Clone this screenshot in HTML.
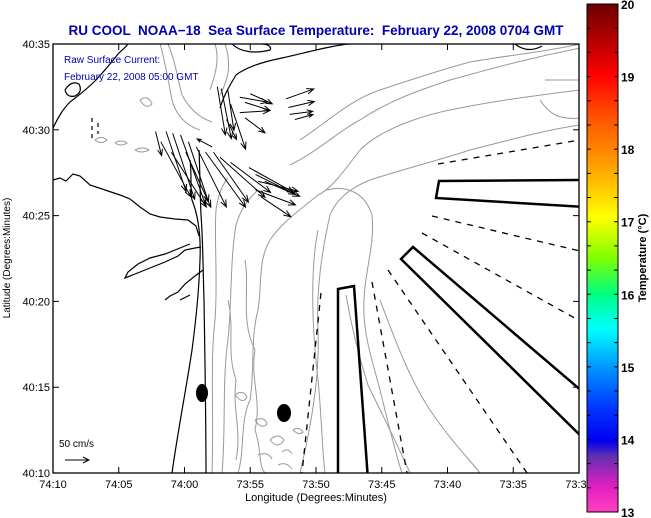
<!DOCTYPE html>
<html><head><meta charset="utf-8">
<style>
html,body{margin:0;padding:0;background:#fff;}
svg{display:block;font-family:"Liberation Sans",sans-serif;}
</style></head>
<body>
<svg id="chart" width="651" height="518" viewBox="0 0 651 518" xmlns="http://www.w3.org/2000/svg">
<defs>
<linearGradient id="cbg" x1="0" y1="0" x2="0" y2="1">
<stop offset="0" stop-color="#6a0000"/>
<stop offset="0.14" stop-color="#ff0000"/>
<stop offset="0.22" stop-color="#ff5000"/>
<stop offset="0.3" stop-color="#ff9000"/>
<stop offset="0.42" stop-color="#ffff00"/>
<stop offset="0.5" stop-color="#80ff00"/>
<stop offset="0.57" stop-color="#00ff80"/>
<stop offset="0.64" stop-color="#00ffff"/>
<stop offset="0.72" stop-color="#0090ff"/>
<stop offset="0.8" stop-color="#0030ff"/>
<stop offset="0.86" stop-color="#0000f0"/>
<stop offset="0.89" stop-color="#6030b0"/>
<stop offset="0.95" stop-color="#e020c0"/>
<stop offset="1" stop-color="#ff40c0"/>
</linearGradient>
<clipPath id="plotclip"><rect x="53" y="44" width="526" height="429"/></clipPath>
</defs>
<rect x="0" y="0" width="651" height="518" fill="#fff"/>
<text x="316" y="35" text-anchor="middle" font-size="13.5" font-weight="bold" fill="#0000b0" style="white-space:pre">RU COOL  NOAA−18  Sea Surface Temperature:  February 22, 2008 0704 GMT</text>

<g id="map" clip-path="url(#plotclip)">
  <g fill="none" stroke="#999" stroke-width="1">
    <path d="M212,473 C214,420 210,360 215,320 C218,280 214,240 216,210 C218,195 222,185 228,178"/>
    <path d="M222,473 C226,430 222,380 228,340 C232,300 230,260 236,225 C242,205 250,198 258,190"/>
    <path d="M238,473 C245,450 240,420 250,400 C255,370 250,340 258,310 C262,285 258,260 270,240 C282,222 300,210 318,195 C330,190 345,170 360,150 C380,130 420,115 460,108 C500,100 540,95 580,90"/>
    <path d="M300,473 C310,430 320,380 318,330 C316,290 322,250 330,215 C336,200 350,188 370,180 C400,170 440,160 470,150 C510,140 545,130 580,125"/>
    <path d="M327,190 C345,185 365,192 372,215 C375,245 365,270 364,300 C362,330 372,360 380,390 C390,430 396,455 402,473"/>
    <path d="M318,230 C310,270 312,330 318,380 C322,420 322,450 325,473"/>
    <path d="M346,295 C352,330 360,360 368,385 C385,420 400,450 410,473"/>
    <path d="M380,300 C395,340 410,380 430,410 C450,440 470,460 480,473"/>
    <path d="M290,165 C320,150 340,130 360,120 C390,100 420,90 450,80 C480,72 520,60 580,48"/>
    <path d="M300,140 C330,120 350,100 380,90 C410,80 440,70 470,62 C510,55 545,52 580,44"/>
    <path d="M545,80 L580,80 M540,100 C550,115 560,120 580,118"/>
    <path d="M215,44 C220,60 215,75 210,90 M225,44 C232,65 228,80 220,95"/>
    <path d="M160,44 C165,60 168,80 172,100 C176,115 185,125 200,130 M168,44 C175,60 178,80 182,95 C190,110 200,118 212,122"/>
    <path d="M245,260 C250,290 240,320 255,350 C250,380 262,400 255,430 C262,450 258,465 265,473"/>
    <path d="M228,300 C235,330 226,350 236,380 C232,410 242,430 236,460"/>
    <path d="M235,395 q8,-6 12,2 q-4,8 -12,-2 M255,420 q10,-4 12,4 q-6,6 -12,-4 M270,440 q8,-8 14,0 q-6,10 -14,0 M258,455 q10,-4 14,4 M293,430 q6,-4 10,2 q-4,4 -10,-2 M282,452 q6,-5 10,2 M278,465 q8,-4 14,4"/>
    <path d="M95,140 q6,-5 12,0 q-6,5 -12,0 M115,143 q6,-4 12,0 q-6,4 -12,0 M135,150 q8,-4 14,0 q-8,4 -14,0"/>
    <path d="M140,100 q8,-6 12,4 q-6,6 -12,-4"/>
  </g>
  <g fill="none" stroke="#000" stroke-width="1.2">
    <path d="M172,473 C178,430 186,390 192,350 C196,320 199,290 200,260 C201,235 198,215 192,200 C190,190 192,175 190,160"/>
    <path d="M206,473 C206,420 205,360 204,300 C203,270 203,240 201,215 C200,195 200,170 199,150"/>
    <path d="M53,180 L60,178 L66,181 L73,174 L80,176 L90,185 L105,190 L120,195 L130,199 L140,207 L150,214 L160,217 L175,219 L188,220 L196,226 L199,236"/>
    <path d="M201,247 L195,248 L185,250 L178,256 L165,262 L150,268 L135,274 L125,278 L128,272 L138,264 L150,258 L165,254 L180,248 L190,244"/>
    <path d="M203,270 L195,276 L185,284 L178,292 L170,296 L165,300 M190,295 L180,300"/>
    <path d="M53,128 C58,118 62,110 70,102 C78,96 88,88 96,80 C105,70 112,62 118,54 C122,50 126,47 128,44"/>
    <path d="M65,90 q6,-10 14,-6 q4,8 -4,12 q-8,2 -10,-6"/>
    <path d="M220,108 C224,95 230,85 236,75 C245,68 262,62 282,58 C300,54 315,50 330,47 C340,45 345,44 350,44"/>
    <path d="M232,44 C240,52 255,54 270,50 C272,47 268,44 262,44"/>
    <path d="M515,44 C525,52 535,50 542,46"/>
  </g>
  <path d="M92,118 L92,140 M98,123 L98,134" stroke="#000" stroke-width="1.2" stroke-dasharray="4,4" fill="none"/>
  <g fill="none" stroke="#000">
    <path d="M438,164 L580,140" stroke-width="1.3" stroke-dasharray="6,6"/>
    <path d="M432,216 L580,251" stroke-width="1.3" stroke-dasharray="6,6"/>
    <path d="M422,233 L580,321" stroke-width="1.3" stroke-dasharray="6,6"/>
    <path d="M388,270 L527,473" stroke-width="1.3" stroke-dasharray="6,6"/>
    <path d="M372,282 L407,473" stroke-width="1.3" stroke-dasharray="6,6"/>
    <path d="M321,293 L302,473" stroke-width="1.3" stroke-dasharray="6,6"/>
    <path d="M439,181 L585,180 L585,207 L436,198 Z" stroke-width="2.5"/>
    <path d="M413,247 L590,398 L590,445 L401,259 Z" stroke-width="2.5"/>
    <path d="M338,289 L354,286 L368,480 L338,480 Z" stroke-width="2.5"/>
  </g>
  <ellipse cx="202" cy="393" rx="6" ry="9" fill="#000"/>
  <ellipse cx="284" cy="413" rx="7" ry="9" fill="#000"/>
  <g id="vectors" stroke="#000" stroke-width="1" fill="none"></g>
</g>

<rect x="53" y="44" width="526" height="429" fill="none" stroke="#000" stroke-width="1.3"/>
<g id="xaxis"></g>
<g id="yaxis"></g>
<text x="316" y="501" text-anchor="middle" font-size="11">Longitude (Degrees:Minutes)</text>
<text transform="translate(10,258) rotate(-90)" text-anchor="middle" font-size="10">Latitude (Degrees:Minutes)</text>

<text x="64" y="63" font-size="10" fill="#0000b0">Raw Surface Current:</text>
<text x="64" y="80" font-size="10" fill="#0000b0">February 22, 2008 05:00 GMT</text>
<text x="59" y="447" font-size="10">50 cm/s</text>
<g stroke="#000" fill="none"><path d="M65,460 L89,460 M83,457 L89,460 L83,463"/></g>

<rect x="587" y="4" width="31" height="508" fill="url(#cbg)" stroke="#000" stroke-width="1"/>
<g id="cbticks"></g>
<text transform="translate(646,258) rotate(-90)" text-anchor="middle" font-size="11" font-weight="bold">Temperature (°C)</text>
</svg>
<script>
const xTickLabels = ["74:10","74:05","74:00","73:55","73:50","73:45","73:40","73:35","73:30"];
const yTickLabels = ["40:10","40:15","40:20","40:25","40:30","40:35"];
const cbValues = [13,14,15,16,17,18,19,20];
const vecLon = [7.8,8.6,9.1,9.7,10.3,10.9,11.6,12.2,12.7,13.5,8.2,9.0,10.1,12.5,12.8,13.3,13.5,13.2,12.1,14.2,14.6,14.2,14.6,15.0,17.7,17.9,18.0,18.4,14.9,15.4,15.6,15.4,15.8,16.1];
const vecLat = [19.9,19.9,19.8,19.7,19.3,19.0,18.7,18.7,18.4,18.1,19.3,18.7,18.7,22.5,22.4,22.3,21.5,20.6,19.0,21.9,21.6,21.0,20.7,22.1,21.8,21.3,20.9,20.6,17.8,17.4,17.0,16.5,16.1,17.0];
const vecU = [12,40,44,50,40,60,80,70,90,80,60,70,50,16,20,12,30,20,-30,56,50,60,40,44,56,52,46,36,90,80,80,80,60,70];
const vecV = [-48,-120,-132,-140,-120,-120,-110,-100,-80,-60,-110,-110,-110,-96,-100,-80,-90,-40,16,-10,-16,4,-30,-20,20,12,6,10,-50,-40,-20,-30,-40,-30];

const NS="http://www.w3.org/2000/svg";
const X0=53,X1=579,Y0=473,Y1=44;
function xPos(m){return X0+(X1-X0)*m/40;}
function yPos(m){return Y0-(Y0-Y1)*m/25;}
const pxPerCms=0.5;

const vg=document.getElementById('vectors');
for(let i=0;i<vecLon.length;i++){
  const x0=xPos(vecLon[i]),y0=yPos(vecLat[i]);
  const dx=vecU[i]*pxPerCms,dy=-vecV[i]*pxPerCms;
  const x1=x0+dx,y1=y0+dy;
  const L=Math.hypot(dx,dy),ux=dx/L,uy=dy/L,h=Math.min(7,L*0.25);
  const p=document.createElementNS(NS,'path');
  p.setAttribute('d',`M${x0},${y0} L${x1},${y1} M${x1-h*ux+h*0.4*uy},${y1-h*uy-h*0.4*ux} L${x1},${y1} L${x1-h*ux-h*0.4*uy},${y1-h*uy+h*0.4*ux}`);
  
  
  vg.appendChild(p);
}

const xa=document.getElementById('xaxis');
xTickLabels.forEach((lab,i)=>{
  const x=xPos(i*5);
  const t=document.createElementNS(NS,'path');
  t.setAttribute('d',`M${x},${Y0} L${x},${Y0-6} M${x},${Y1} L${x},${Y1+6}`);
  t.setAttribute('stroke','#000');
  
  
  xa.appendChild(t);
  const tx=document.createElementNS(NS,'text');
  tx.setAttribute('x',x);tx.setAttribute('y',488);
  tx.setAttribute('text-anchor','middle');tx.setAttribute('font-size','11');
  tx.textContent=lab;
  
  
  xa.appendChild(tx);
});
const ya=document.getElementById('yaxis');
yTickLabels.forEach((lab,i)=>{
  const y=yPos(i*5);
  const t=document.createElementNS(NS,'path');
  t.setAttribute('d',`M${X0},${y} L${X0+6},${y} M${X1},${y} L${X1-6},${y}`);
  t.setAttribute('stroke','#000');
  
  
  ya.appendChild(t);
  const tx=document.createElementNS(NS,'text');
  tx.setAttribute('x',X0-3);tx.setAttribute('y',y+4);
  tx.setAttribute('text-anchor','end');tx.setAttribute('font-size','11');
  tx.textContent=lab;
  
  
  ya.appendChild(tx);
});
const cb=document.getElementById('cbticks');
const CB0=512,CB1=4;
function cbY(v){return CB0-(CB0-CB1)*(v-13)/7;}
for(let k=0;k<=21;k++){
  const y=cbY(13+k/3);
  const t=document.createElementNS(NS,'path');
  t.setAttribute('d',`M587,${y} L591,${y} M618,${y} L614,${y}`);
  t.setAttribute('stroke','#000');
  
  
  cb.appendChild(t);
}
cbValues.forEach(v=>{
  const tx=document.createElementNS(NS,'text');
  tx.setAttribute('x',621);tx.setAttribute('y',cbY(v)+5);
  tx.setAttribute('font-size','12');tx.setAttribute('font-weight','bold');
  tx.textContent=String(v);
  
  
  cb.appendChild(tx);
});
</script>
</body></html>
